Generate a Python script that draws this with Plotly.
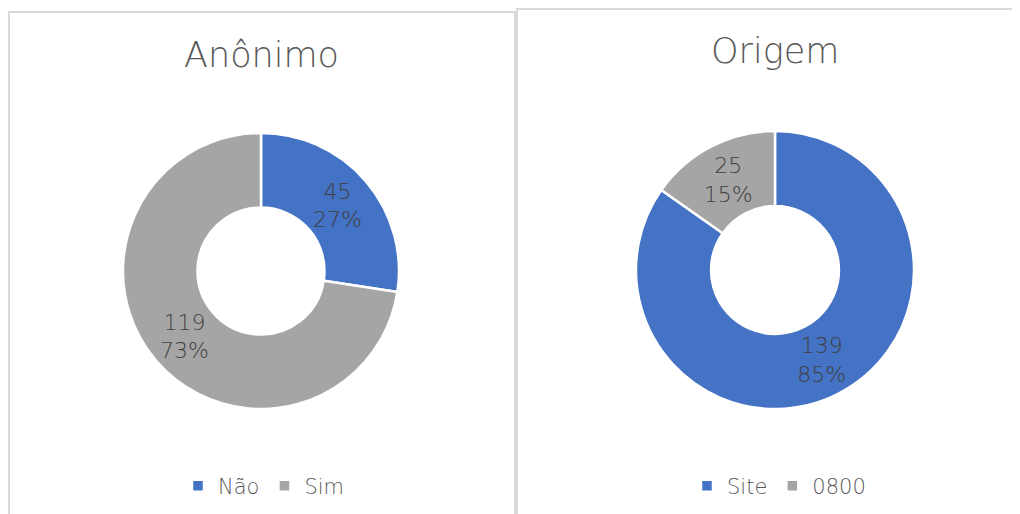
import plotly.graph_objects as go

# the page puts the plot 8px in from the window's top left corner
OFF = 8
W, H = 1020 - OFF, 514 - OFF

# data
anon_labels = ["Não", "Sim"]
anon_values = [45, 119]
origem_labels = ["Site", "0800"]
origem_values = [139, 25]

BLUE = "#4472C4"
GRAY = "#A5A5A5"
TEXT = "#404040"
TITLE = "#595959"
BORDER = "#D9D9D9"
FONT = "DejaVu Sans"


def px_x(x):
    return (x - OFF) / W


def px_y(y):
    return 1 - (y - OFF) / H


fig = go.Figure()

fig.add_trace(go.Pie(
    labels=anon_labels, values=anon_values, hole=0.46, sort=False,
    direction="clockwise", rotation=0,
    marker=dict(colors=[BLUE, GRAY], line=dict(color="white", width=2.5)),
    texttemplate="%{value}<br>%{percent:.0%}", textposition="inside",
    insidetextorientation="horizontal",
    textfont=dict(color=TEXT, size=22, family=FONT, weight=300),
    domain=dict(x=[px_x(123), px_x(399)], y=[px_y(409), px_y(133)]),
    legend="legend", hoverinfo="label+value+percent",
))
fig.add_trace(go.Pie(
    labels=origem_labels, values=origem_values, hole=0.46, sort=False,
    direction="clockwise", rotation=0,
    marker=dict(colors=[BLUE, GRAY], line=dict(color="white", width=2.5)),
    texttemplate="%{value}<br>%{percent:.0%}", textposition="inside",
    insidetextorientation="horizontal",
    textfont=dict(color=TEXT, size=22, family=FONT, weight=300),
    domain=dict(x=[px_x(636), px_x(914)], y=[px_y(409), px_y(131)]),
    legend="legend2", hoverinfo="label+value+percent",
))

# panel frames
for x0, y0, x1, y1 in [(9, 12, 515, 540), (517, 9, 1040, 540)]:
    fig.add_shape(type="rect", xref="paper", yref="paper",
                  x0=px_x(x0), x1=px_x(x1), y0=px_y(y1), y1=px_y(y0),
                  line=dict(color=BORDER, width=2), layer="below")

for text, cx, cy in [("Anônimo", 261, 55), ("Origem", 775, 51)]:
    fig.add_annotation(text=text, x=px_x(cx), y=px_y(cy), xref="paper", yref="paper",
                       showarrow=False, xanchor="center", yanchor="middle",
                       font=dict(size=35, color=TITLE, family=FONT, weight=300))

legend_style = dict(orientation="h", xanchor="center", yanchor="middle",
                    font=dict(size=21, color=TITLE, family=FONT, weight=300),
                    bgcolor="rgba(0,0,0,0)", itemclick=False, itemwidth=30)

fig.update_layout(
    width=W, height=H,
    margin=dict(l=0, r=0, t=0, b=0),
    paper_bgcolor="white", plot_bgcolor="white",
    showlegend=True,
    uniformtext=dict(minsize=22, mode="show"),
    legend=dict(x=px_x(264), y=px_y(486), **legend_style),
    legend2=dict(x=px_x(779), y=px_y(486), **legend_style),
)

fig.write_html("out.html")
